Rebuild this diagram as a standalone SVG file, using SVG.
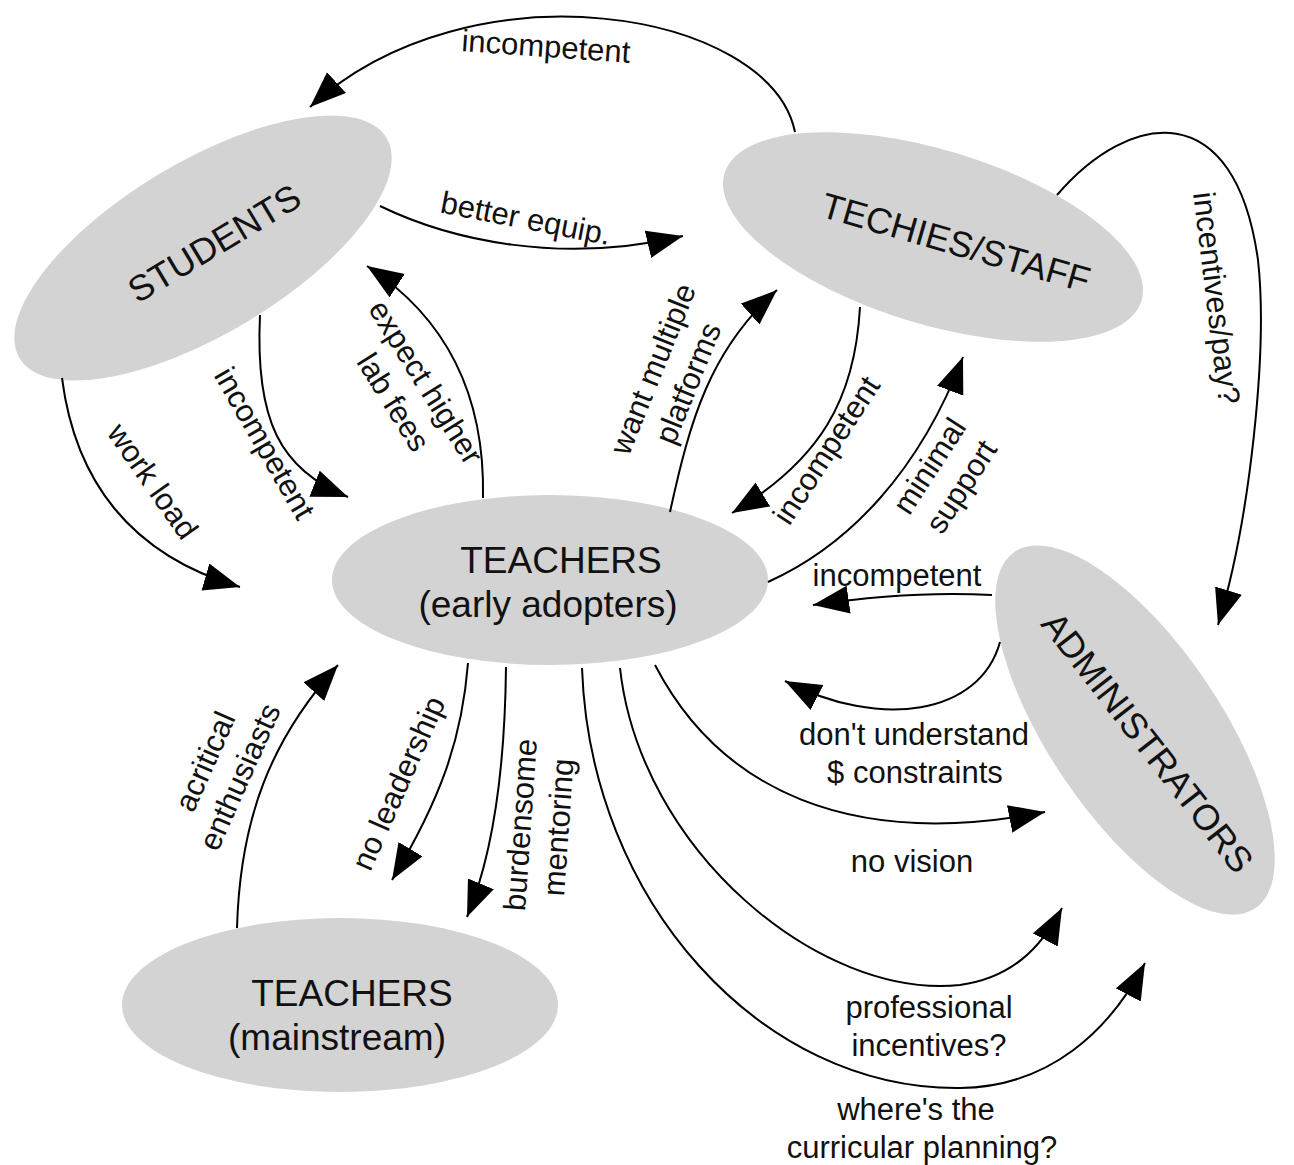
<svg xmlns="http://www.w3.org/2000/svg" width="1294" height="1165" viewBox="0 0 1294 1165">
<defs>
<style>
.node{fill:#d3d3d3;stroke:none}
.nl{font-family:"Liberation Sans",Arial,Helvetica,sans-serif;font-size:37px;fill:#111;text-anchor:middle}
.nr{font-family:"Liberation Sans",Arial,Helvetica,sans-serif;font-size:36px;fill:#111;text-anchor:middle}
.el{font-family:"Liberation Sans",Arial,Helvetica,sans-serif;font-size:31px;fill:#111;text-anchor:middle}
.edge{fill:none;stroke:#000;stroke-width:2;marker-end:url(#ah)}
</style>
<marker id="ah" markerUnits="userSpaceOnUse" markerWidth="40" markerHeight="30" refX="36" refY="14" orient="auto">
<path d="M0,0 L36,14 L0,28 z" fill="#000"/>
</marker>
</defs>
<rect width="1294" height="1165" fill="#fff"/>

<g id="students">
<ellipse class="node" cx="203" cy="248" rx="214" ry="86" transform="rotate(-31 203 248)"/>
<text class="nr" transform="translate(214,243) rotate(-31)" y="13">STUDENTS</text>
</g>
<g id="techies">
<ellipse class="node" cx="933" cy="237" rx="218" ry="87" transform="rotate(17 933 237)"/>
<text class="nr" transform="translate(956,242) rotate(16)" y="13">TECHIES/STAFF</text>
</g>
<g id="teachers-early">
<ellipse class="node" cx="550" cy="580" rx="218" ry="85"/>
<text class="nl" x="561" y="573">TEACHERS</text>
<text class="nl" x="548" y="617">(early adopters)</text>
</g>
<g id="administrators">
<ellipse class="node" cx="1135" cy="730" rx="215" ry="86" transform="rotate(56 1135 730)"/>
<text class="nr" transform="translate(1148,742) rotate(52)" y="13">ADMINISTRATORS</text>
</g>
<g id="teachers-mainstream">
<ellipse class="node" cx="340" cy="1005" rx="218" ry="87"/>
<text class="nl" x="352" y="1006">TEACHERS</text>
<text class="nl" x="337" y="1050">(mainstream)</text>
</g>

<g id="connectors">
<path class="edge" d="M795,132 C770,10 470,-40 310,107"/>
<path class="edge" d="M380,206 C450,240 560,265 683,236"/>
<path class="edge" d="M62,378 C75,480 130,555 240,587"/>
<path class="edge" d="M260,315 C255,420 280,470 348,497"/>
<path class="edge" d="M483,498 C485,400 450,320 367,266"/>
<path class="edge" d="M670,512 C690,420 710,350 777,290"/>
<path class="edge" d="M860,307 C855,400 820,460 732,513"/>
<path class="edge" d="M768,582 C850,545 920,470 963,357"/>
<path class="edge" d="M1057,195 C1130,110 1235,95 1258,260 C1268,350 1250,520 1218,625"/>
<path class="edge" d="M992,595 C940,592 880,595 813,605"/>
<path class="edge" d="M1000,642 C980,715 880,730 785,681"/>
<path class="edge" d="M655,665 C720,790 850,850 1045,812"/>
<path class="edge" d="M620,668 C640,850 820,1000 960,985 C1010,978 1040,950 1062,908"/>
<path class="edge" d="M582,668 C590,900 760,1090 960,1088 C1050,1087 1110,1030 1145,963"/>
<path class="edge" d="M237,928 C240,820 270,740 338,665"/>
<path class="edge" d="M468,663 C462,740 440,800 392,880"/>
<path class="edge" d="M506,667 C505,760 495,850 467,917"/>

<text class="el" transform="translate(546,46) rotate(4)" y="11">incompetent</text>
<text class="el" transform="translate(526,218) rotate(11)" y="11">better equip.</text>
<text class="el" transform="translate(153,481) rotate(55)" y="11">work load</text>
<text class="el" transform="translate(265,443) rotate(60)" y="11">incompetent</text>
<text class="el" transform="translate(410,392) rotate(58)"><tspan x="0" y="-8">expect higher</tspan><tspan x="0" y="30">lab fees</tspan></text>
<text class="el" transform="translate(670,376) rotate(-68)"><tspan x="0" y="-8">want multiple</tspan><tspan x="0" y="30">platforms</tspan></text>
<text class="el" transform="translate(826,450) rotate(-57)" y="11">incompetent</text>
<text class="el" transform="translate(945,476) rotate(-57)"><tspan x="0" y="-8">minimal</tspan><tspan x="0" y="30">support</tspan></text>
<text class="el" transform="translate(1217,298) rotate(83)" y="11">incentives/pay?</text>
<text class="el" x="897" y="586">incompetent</text>
<text class="el" x="914" y="745">don't understand</text>
<text class="el" x="915" y="783">$ constraints</text>
<text class="el" x="912" y="872">no vision</text>
<text class="el" x="929" y="1018">professional</text>
<text class="el" x="929" y="1056">incentives?</text>
<text class="el" x="916" y="1120">where's the</text>
<text class="el" x="922" y="1158">curricular planning?</text>
<text class="el" transform="translate(222,769) rotate(-66)"><tspan x="0" y="-8">acritical</tspan><tspan x="0" y="30">enthusiasts</tspan></text>
<text class="el" transform="translate(398,783) rotate(-66)" y="11">no leadership</text>
<text class="el" transform="translate(539,826) rotate(-86)"><tspan x="0" y="-8">burdensome</tspan><tspan x="0" y="30">mentoring</tspan></text>
</g>
</svg>
